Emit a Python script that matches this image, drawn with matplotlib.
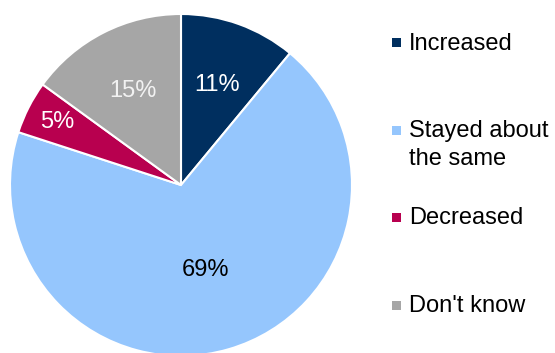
import matplotlib
import matplotlib.pyplot as plt
import numpy as np
from matplotlib.patches import Rectangle

matplotlib.use("Agg")
plt.rcParams["font.family"] = ["Liberation Sans", "DejaVu Sans"]

categories = ["Increased", "Stayed about\nthe same", "Decreased", "Don't know"]
shares = [11, 69, 5, 15]

colors = ["#002F5F", "#95C6FD", "#B8004F", "#A6A6A6"]
label_colors = ["white", "black", "white", "#F2F2F2"]
label_dist = [0.62, 0.52, 0.81, 0.62]

W, H = 555, 353
fig = plt.figure(figsize=(W / 100, H / 100), dpi=100)
ax = fig.add_axes([0, 0, 1, 1])

cx, cy, R = 181, 168, 171
wedges, _ = ax.pie(
    shares, colors=colors, startangle=90, counterclock=False,
    center=(cx, cy), radius=R, frame=True,
    wedgeprops=dict(edgecolor="white", linewidth=1.5),
)
ax.set_xlim(0, W)
ax.set_ylim(0, H)
ax.axis("off")

for w, val, col, d in zip(wedges, shares, label_colors, label_dist):
    ang = np.deg2rad((w.theta1 + w.theta2) / 2)
    ax.text(cx + d * R * np.cos(ang), cy + d * R * np.sin(ang), f"{val}%",
            ha="center", va="center", fontsize=17, color=col)

# legend drawn by hand so the two-line entry keeps its square on the first line
y0, step = H - 42.5, 87.5
for i, (name, col) in enumerate(zip(categories, colors)):
    y = y0 - i * step
    ax.add_patch(Rectangle((392, y - 4.5), 9, 9, color=col, lw=0))
    ax.text(409, y + 10, name, ha="left", va="top", fontsize=17,
            color="black", linespacing=1.38)

fig.savefig("out.png", dpi=100)
